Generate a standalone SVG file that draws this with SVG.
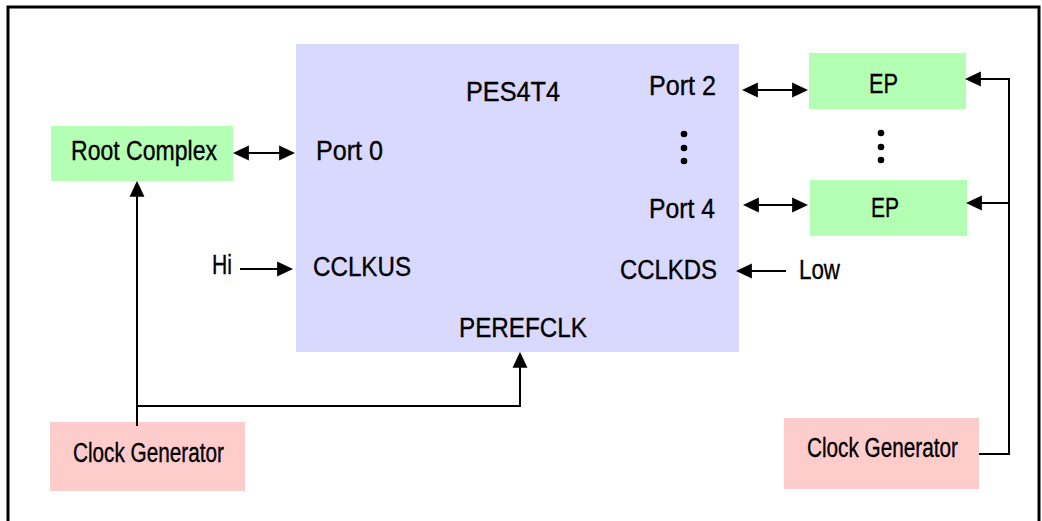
<svg xmlns="http://www.w3.org/2000/svg" width="1042" height="521" viewBox="0 0 1042 521">
<style>
text{font-family:"Liberation Sans",Arial,sans-serif;fill:#000;font-size:27px;stroke:#000;stroke-width:0.35}
.chip{fill:#d9d9ff}
.green{fill:#b3ffb3}
.pink{fill:#ffcccc}
.wire{fill:none;stroke:#000;stroke-width:2}
.dot{fill:#000}
</style>
<defs>
<marker id="ah" markerUnits="userSpaceOnUse" markerWidth="16" markerHeight="16" viewBox="0 0 15 14" refX="13" refY="7" orient="auto-start-reverse">
<path d="M0,0 L15,7 L0,14 z" fill="#000"/>
</marker>
</defs>
<rect x="8" y="7" width="1031" height="530" fill="#fff" stroke="#000" stroke-width="3"/>

<g id="pes4t4">
<rect class="chip" x="296" y="44" width="443" height="308"/>
<text x="466" y="101" font-size="29" textLength="94" lengthAdjust="spacingAndGlyphs">PES4T4</text>
<text x="316" y="160" textLength="67" lengthAdjust="spacingAndGlyphs">Port 0</text>
<text x="313" y="276" textLength="98" lengthAdjust="spacingAndGlyphs">CCLKUS</text>
<text x="459" y="337" textLength="128" lengthAdjust="spacingAndGlyphs">PEREFCLK</text>
<text x="649" y="95" textLength="67" lengthAdjust="spacingAndGlyphs">Port 2</text>
<text x="649" y="218" textLength="66" lengthAdjust="spacingAndGlyphs">Port 4</text>
<text x="620" y="279" textLength="97" lengthAdjust="spacingAndGlyphs">CCLKDS</text>
<circle class="dot" cx="684" cy="134" r="3.3"/>
<circle class="dot" cx="684" cy="148" r="3.3"/>
<circle class="dot" cx="684" cy="161" r="3.3"/>
</g>

<g id="root-complex">
<rect class="green" x="51" y="126" width="182" height="55"/>
<text x="71" y="160" font-size="26" textLength="146" lengthAdjust="spacingAndGlyphs">Root Complex</text>
</g>

<g id="ep-top">
<rect class="green" x="809" y="53" width="157" height="56"/>
<text x="869" y="93" font-size="26" textLength="29" lengthAdjust="spacingAndGlyphs">EP</text>
</g>

<g id="ep-dots">
<circle class="dot" cx="881" cy="133" r="3.3"/>
<circle class="dot" cx="881" cy="147" r="3.3"/>
<circle class="dot" cx="881" cy="160" r="3.3"/>
</g>

<g id="ep-bottom">
<rect class="green" x="810" y="180" width="157" height="56"/>
<text x="871" y="217" font-size="26" textLength="28" lengthAdjust="spacingAndGlyphs">EP</text>
</g>

<g id="clock-gen-left">
<rect class="pink" x="50" y="422" width="195" height="69"/>
<text x="73" y="462" font-size="26" textLength="151" lengthAdjust="spacingAndGlyphs">Clock Generator</text>
</g>

<g id="clock-gen-right">
<rect class="pink" x="784" y="418" width="195" height="71"/>
<text x="807" y="457" font-size="26" textLength="151" lengthAdjust="spacingAndGlyphs">Clock Generator</text>
</g>

<g id="label-hi">
<text x="212" y="274" font-size="24" textLength="20" lengthAdjust="spacingAndGlyphs">Hi</text>
</g>
<g id="label-low">
<text x="799" y="279" font-size="25" textLength="41" lengthAdjust="spacingAndGlyphs">Low</text>
</g>

<g id="connectors">
<line class="wire" x1="235" y1="153" x2="293" y2="153" marker-start="url(#ah)" marker-end="url(#ah)"/>
<line class="wire" x1="240" y1="269" x2="291" y2="269" marker-end="url(#ah)"/>
<line class="wire" x1="744" y1="90" x2="806" y2="90" marker-start="url(#ah)" marker-end="url(#ah)"/>
<line class="wire" x1="745" y1="205" x2="806" y2="205" marker-start="url(#ah)" marker-end="url(#ah)"/>
<line class="wire" x1="786" y1="271" x2="738" y2="271" marker-end="url(#ah)"/>
<path class="wire" d="M979,454 H1009 V79 H967" marker-end="url(#ah)"/>
<line class="wire" x1="1009" y1="203" x2="968" y2="203" marker-end="url(#ah)"/>
<line class="wire" x1="137" y1="426" x2="137" y2="183" marker-end="url(#ah)"/>
<path class="wire" d="M137,406 H520 V354" marker-end="url(#ah)"/>
</g>
</svg>
